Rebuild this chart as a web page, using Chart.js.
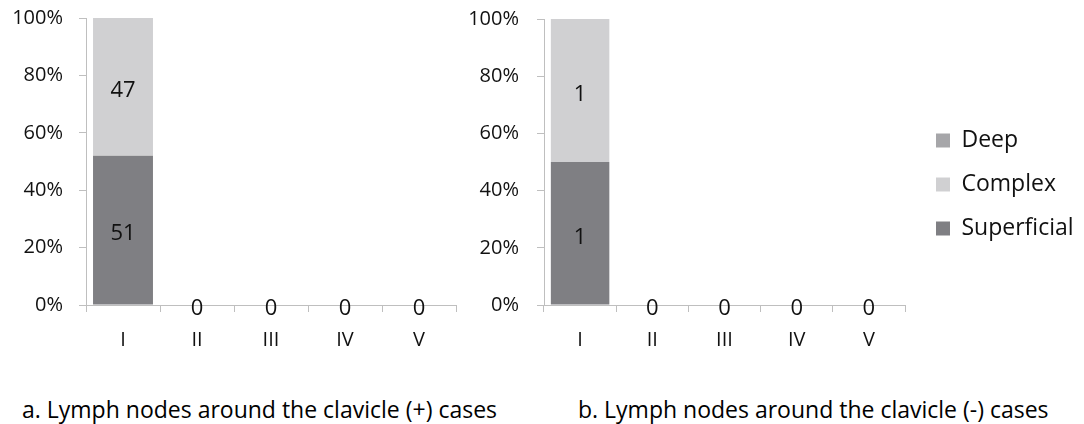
<!DOCTYPE html>
<html lang="en">
<head>
<meta charset="UTF-8">
<title>Lymph nodes around the clavicle</title>
<script src="https://cdn.jsdelivr.net/npm/chart.js"></script>
<style>
  body { margin: 0; background: #fff; width: 1084px; height: 424px; overflow: hidden; position: relative; font-family: "Open Sans", sans-serif; }
  .box { position: absolute; top: 0; }
  #boxA { left: 0; width: 470px; height: 362px; }
  #boxB { left: 440px; width: 644px; height: 350px; }
  .caption { position: absolute; top: 393px; font-size: 23px; line-height: 32px; color: #000; white-space: nowrap; }
</style>
</head>
<body>
<div class="box" id="boxA"><canvas id="chartA"></canvas></div>
<div class="box" id="boxB"><canvas id="chartB"></canvas></div>
<div class="caption" style="left:22px">a. Lymph nodes around the clavicle (+) cases</div>
<div class="caption" style="left:578px">b. Lymph nodes around the clavicle (-) cases</div>
<script>
// categories and series (counts per category)
const categories = ['I', 'II', 'III', 'IV', 'V'];
const seriesNames = ['Superficial', 'Complex', 'Deep'];
const seriesColors = ['#7f7f83', '#d0d0d2', '#a6a6a9'];
const yTicks = [0, 20, 40, 60, 80, 100];

// a. clavicle (+) cases
const posSuperficial = [51, 0, 0, 0, 0];
const posComplex = [47, 0, 0, 0, 0];
const posDeep = [0, 0, 0, 0, 0];

// b. clavicle (-) cases
const negSuperficial = [1, 0, 0, 0, 0];
const negComplex = [1, 0, 0, 0, 0];
const negDeep = [0, 0, 0, 0, 0];

Chart.defaults.font.family = '"Open Sans", sans-serif';
Chart.defaults.color = '#111';

// 100% stacked: turn counts into shares of each category
function toPercent(series) {
    const totals = categories.map((c, i) => series.reduce((s, d) => s + d[i], 0));
    return series.map(d => d.map((v, i) => totals[i] ? v / totals[i] * 100 : 0));
}

// count labels in the middle of each segment, one "0" for empty categories
const countLabels = {
    id: 'countLabels',
    afterDatasetsDraw(chart) {
        const ctx = chart.ctx;
        const sets = chart.data.datasets;
        ctx.save();
        ctx.font = '22px "Open Sans"';
        ctx.fillStyle = '#111';
        ctx.textAlign = 'center';
        ctx.textBaseline = 'middle';
        sets.forEach((ds, di) => {
            chart.getDatasetMeta(di).data.forEach((bar, i) => {
                const v = ds.counts[i];
                const total = sets.reduce((s, d) => s + d.counts[i], 0);
                if (v > 0 || (total === 0 && di === 0)) {
                    ctx.fillText(String(v), bar.x, (bar.y + bar.base) / 2 + 4);
                }
            });
        });
        ctx.restore();
    }
};

// legend items sit a bit further right of the plot, like the original
const nudgeLegend = {
    id: 'nudgeLegend',
    afterLayout(chart) {
        const lg = chart.legend;
        if (lg && lg.options.display) {
            lg.left += 10;
            lg.right = chart.width;
            lg.width = lg.right - lg.left;
        }
    }
};

function makeChart(id, series, opt) {
    const pct = toPercent(series);
    return new Chart(document.getElementById(id), {
        type: 'bar',
        data: {
            labels: categories,
            datasets: seriesNames.map((name, k) => ({
                label: name,
                data: pct[k],
                counts: series[k],
                backgroundColor: seriesColors[k],
                borderWidth: 0,
                barPercentage: 0.81,
                categoryPercentage: 1
            }))
        },
        options: {
            responsive: true,
            maintainAspectRatio: false,
            animation: false,
            layout: { padding: opt.padding },
            plugins: {
                legend: opt.legend,
                tooltip: { enabled: false }
            },
            scales: {
                x: {
                    stacked: true,
                    grid: { offset: true, drawOnChartArea: false, tickLength: 7, color: '#bfbfbf' },
                    border: { color: '#bfbfbf' },
                    ticks: { font: { size: 20 }, padding: 16 },
                    afterFit: s => { s.height = opt.xHeight; s.paddingLeft = 0; s.paddingRight = 0; }
                },
                y: {
                    stacked: true,
                    min: 0,
                    max: 100,
                    grid: { drawOnChartArea: false, tickLength: 7, color: '#bfbfbf' },
                    border: { color: '#bfbfbf' },
                    ticks: { font: { size: 20 }, padding: opt.yPad, callback: v => v + '%' },
                    afterBuildTicks: s => { s.ticks = yTicks.map(v => ({ value: v })); },
                    afterFit: s => { s.width = opt.yWidth; s.paddingTop = 0; s.paddingBottom = 0; }
                }
            }
        },
        plugins: [countLabels, nudgeLegend]
    });
}

const chartA = makeChart('chartA', [posSuperficial, posComplex, posDeep], {
    padding: { top: 18, right: 14, left: 0, bottom: 0 },
    yWidth: 86, yPad: 16, xHeight: 57,
    legend: { display: false }
});

const chartB = makeChart('chartB', [negSuperficial, negComplex, negDeep], {
    padding: { top: 19, right: 24, left: 0, bottom: 0 },
    yWidth: 104, yPad: 18, xHeight: 45,
    legend: {
        position: 'right',
        reverse: true,
        labels: { boxWidth: 14, boxHeight: 14, padding: 21, font: { size: 23 }, color: '#111' }
    }
});
</script>
</body>
</html>
